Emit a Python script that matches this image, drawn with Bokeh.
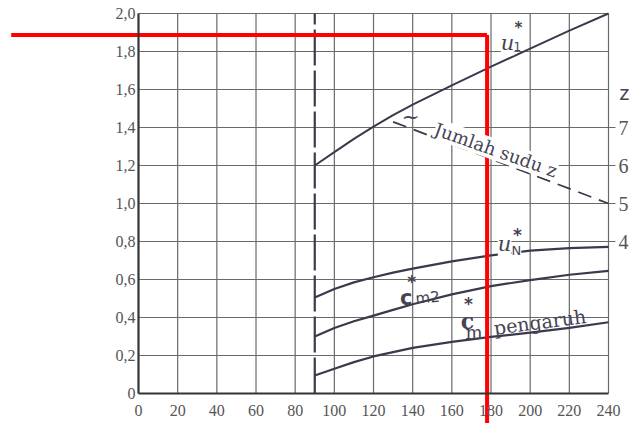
from bokeh.plotting import figure
from bokeh.models import Range1d, LinearAxis, FixedTicker, Label
from bokeh.embed import file_html
from bokeh.resources import INLINE

# ---- data ----
x_vals = [90, 100, 110, 120, 130, 140, 160, 180, 200, 220, 240]
u1_star = [1.20, 1.27, 1.34, 1.405, 1.465, 1.52, 1.622, 1.72, 1.815, 1.91, 2.00]
uN_star = [0.505, 0.55, 0.585, 0.612, 0.636, 0.657, 0.695, 0.727, 0.752, 0.765, 0.772]
cm2_star = [0.30, 0.345, 0.38, 0.41, 0.44, 0.47, 0.522, 0.565, 0.597, 0.625, 0.645]
cm_star = [0.095, 0.13, 0.165, 0.195, 0.218, 0.24, 0.272, 0.298, 0.32, 0.345, 0.375]
z_x = [130, 240]
z_blades = [7.15, 5.0]

x_ticks = [0, 20, 40, 60, 80, 100, 120, 140, 160, 180, 200, 220, 240]
x_grid = [20, 40, 60, 80, 100, 120, 140, 160, 180, 200, 220, 240]
x_split = [90, 90]
y_split = [0.0, 2.0]
y_ticks = [0, 0.2, 0.4, 0.6, 0.8, 1.0, 1.2, 1.4, 1.6, 1.8, 2.0]
y_grid = [0.2, 0.4, 0.6, 0.8, 1.0, 1.2, 1.4, 1.6, 1.8, 2.0]
y_tick_labels = ["0", "0,2", "0,4", "0,6", "0,8", "1,0", "1,2", "1,4", "1,6", "1,8", "2,0"]
z_ticks = [4, 5, 6, 7]

red_x = 178
red_y = 1.887
red_left = -65
red_bottom = -0.16

ink = "#3a3a4c"
grid_c = "#6a6a6a"
txt_c = "#555555"
ann_c = "#444452"
tick_font = "Liberation Sans Narrow"
serif = "DejaVu Serif"
sans = "DejaVu Sans"

p = figure(frame_width=631, frame_height=423, output_backend="svg",
           toolbar_location=None, x_range=Range1d(-70.47, 251.74),
           y_range=Range1d(-0.1579, 2.0684), min_border=0,
           min_border_left=0, min_border_right=0, min_border_top=0,
           min_border_bottom=0, background_fill_color="white",
           border_fill_color="white", outline_line_color=None)
p.extra_y_ranges = {"z": Range1d(-0.789, 10.342)}
p.xgrid.visible = False
p.ygrid.visible = False

# grid (drawn inside the chart box only)
p.segment(x0=x_grid, y0=[0] * len(x_grid), x1=x_grid, y1=[2.0] * len(x_grid),
          line_color=grid_c, line_width=1.2)
p.segment(x0=[0] * len(y_grid), y0=y_grid, x1=[240] * len(y_grid), y1=y_grid,
          line_color=grid_c, line_width=1.2)

# axes at fixed locations
p.xaxis.fixed_location = 0
p.yaxis.fixed_location = 0
p.xaxis.bounds = (0, 240)
p.yaxis.bounds = (0, 2.0)
p.xaxis.ticker = FixedTicker(ticks=x_ticks)
p.yaxis.ticker = FixedTicker(ticks=y_ticks)
p.yaxis.major_label_overrides = dict(zip(y_ticks, y_tick_labels))
for ax in (p.xaxis[0], p.yaxis[0]):
    ax.axis_line_color = "#333333"
    ax.axis_line_width = 2.2
    ax.major_tick_in = 0
    ax.major_tick_out = 0
    ax.minor_tick_line_color = None
    ax.major_label_text_font = tick_font
    ax.major_label_text_font_size = "16px"
    ax.major_label_text_color = txt_c
p.xaxis.major_label_standoff = 12
p.yaxis.major_label_standoff = 3

zaxis = LinearAxis(y_range_name="z", ticker=FixedTicker(ticks=z_ticks),
                   fixed_location=240, bounds=(4, 7),
                   axis_line_color=None, major_tick_in=0, major_tick_out=7,
                   major_tick_line_color=grid_c, major_tick_line_width=1.2,
                   minor_tick_line_color=None, major_label_standoff=3,
                   major_label_text_font=tick_font,
                   major_label_text_font_size="20px",
                   major_label_text_color=txt_c)
p.add_layout(zaxis, "right")

# broken vertical start line at x = 90
p.line(x_split, y_split, line_color=ink, line_width=2.2, line_dash="36 5")

# curves
p.line(x_vals, u1_star, line_color=ink, line_width=2)
p.line(x_vals, uN_star, line_color=ink, line_width=2.2)
p.line(x_vals, cm2_star, line_color=ink, line_width=2.2)
p.line(x_vals, cm_star, line_color=ink, line_width=2.2)
p.line(z_x, z_blades, y_range_name="z", line_color=ink, line_width=1.8,
       line_dash="14 8")


def lab(x, y, text, size, font=serif, style="normal", angle=0.0,
        align="left", baseline="alphabetic", bg=None, yr="default"):
    l = Label(x=x, y=y, text=text, text_font=font, text_font_size=size,
              text_font_style=style, text_color=ann_c, angle=angle,
              text_align=align, text_baseline=baseline, y_range_name=yr,
              background_fill_color=bg)
    p.add_layout(l)


# u1*
lab(185, 1.843, "u", "21px", style="italic", bg="white")
lab(191.5, 1.826, "1", "12px", font=sans)
lab(194, 1.925, "*", "15px", font=sans, style="bold", align="center",
    baseline="middle")
# uN*
lab(183.5, 0.787, "u", "21px", style="italic", bg="white")
lab(190.5, 0.752, "N", "13px", font=sans, bg="white")
lab(193.5, 0.835, "*", "17px", font=sans, style="bold", align="center",
    baseline="middle")
# c*m2
lab(133.5, 0.505, "c", "21px", font=sans, style="bold")
lab(139.5, 0.585, "*", "17px", font=sans, style="bold", align="center",
    baseline="middle")
lab(141.5, 0.498, "m2", "15px", font=sans, angle=0.1)
# c*m pengaruh
lab(164.5, 0.38, "c", "22px", style="bold")
lab(168.5, 0.47, "*", "17px", font=sans, style="bold", align="center",
    baseline="middle")
lab(167, 0.32, "m", "18px")
lab(181.5, 0.345, "pengaruh", "19px", angle=0.13)
# Jumlah sudu z
lab(139, 1.458, "~", "22px", align="center", baseline="middle")
lab(151.5, 1.395, "Jumlah sudu z", "18px", angle=-0.34, bg="white")
# z axis title
lab(245.5, 1.585, "z", "21px", font="Liberation Sans", baseline="middle")

# red marker lines
p.line([red_left, red_x], [red_y, red_y], line_color="#ff0000", line_width=4)
p.line([red_x, red_x], [red_y, red_bottom], line_color="#ff0000", line_width=4)

open("out.html", "w").write(file_html(p, INLINE))
